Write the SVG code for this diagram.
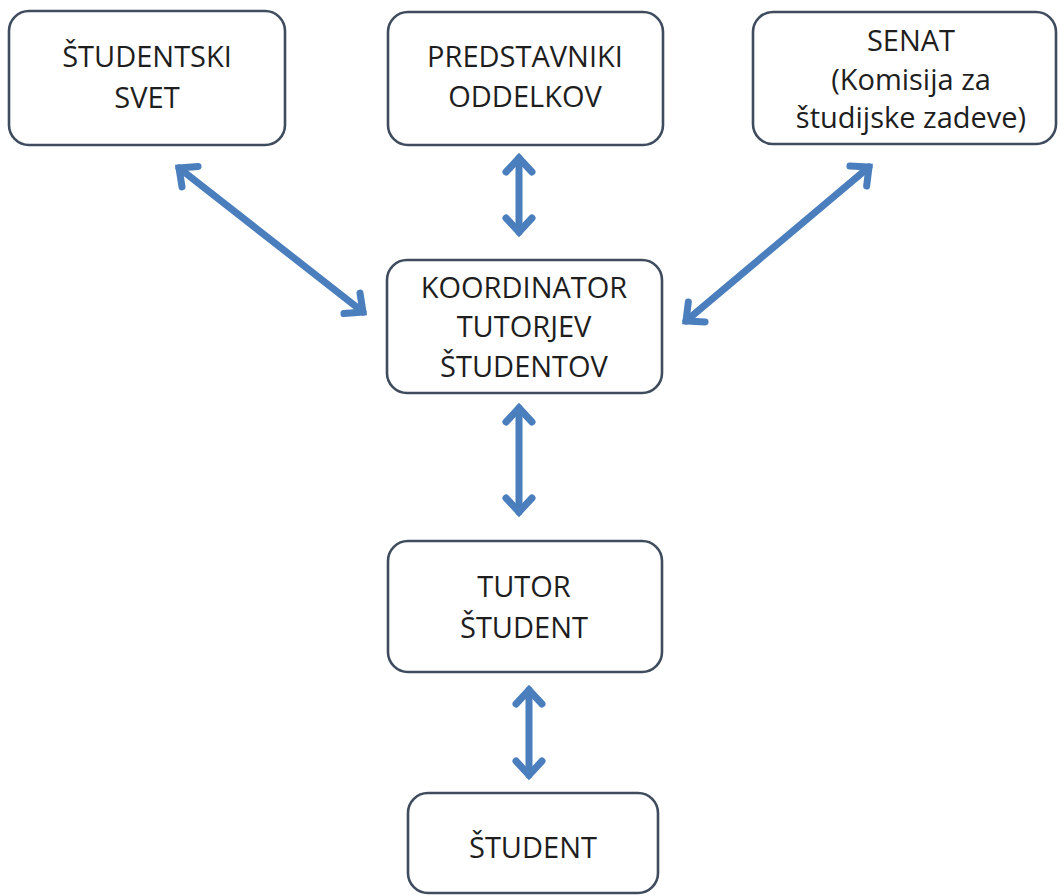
<svg xmlns="http://www.w3.org/2000/svg" width="1060" height="896" viewBox="0 0 1060 896">
<style>
.box{fill:#ffffff;stroke:#3e4c5d;stroke-width:2.6}
.t{font-family:"Open Sans","Liberation Sans",sans-serif;font-size:29px;fill:#1e1e1e;text-anchor:middle}
.c{fill:none;stroke:#4a7ebd;stroke-width:7;stroke-linecap:round}
</style>
<defs>
<marker id="ah" markerUnits="userSpaceOnUse" viewBox="-20 -20 30 40" refX="0" refY="0" markerWidth="30" markerHeight="40" orient="auto-start-reverse" overflow="visible">
<path d="M -14 -13 L 0 0 L -14 13" fill="none" stroke="#4a7ebd" stroke-width="7" stroke-linecap="round" stroke-linejoin="miter"/>
</marker>
</defs>
<rect width="1060" height="896" fill="#ffffff"/>
<g id="n-studentski-svet">
<rect class="box" x="9" y="11" width="276" height="134" rx="20"/>
<text class="t" x="147" y="67">ŠTUDENTSKI</text>
<text class="t" x="147" y="108">SVET</text>
</g>
<g id="n-predstavniki">
<rect class="box" x="388" y="12" width="275" height="133" rx="20"/>
<text class="t" x="525" y="67">PREDSTAVNIKI</text>
<text class="t" x="525" y="107">ODDELKOV</text>
</g>
<g id="n-senat">
<rect class="box" x="753" y="12" width="303" height="132" rx="20"/>
<text class="t" x="911" y="51">SENAT</text>
<text class="t" x="911" y="90">(Komisija za</text>
<text class="t" x="911" y="128">študijske zadeve)</text>
</g>
<g id="n-koordinator">
<rect class="box" x="387" y="260" width="275" height="133" rx="20"/>
<text class="t" x="524" y="298">KOORDINATOR</text>
<text class="t" x="524" y="337">TUTORJEV</text>
<text class="t" x="524" y="377">ŠTUDENTOV</text>
</g>
<g id="n-tutor">
<rect class="box" x="388" y="541" width="274" height="131" rx="20"/>
<text class="t" x="524" y="597">TUTOR</text>
<text class="t" x="524" y="638">ŠTUDENT</text>
</g>
<g id="n-student">
<rect class="box" x="408" y="793" width="250" height="100" rx="20"/>
<text class="t" x="533" y="858">ŠTUDENT</text>
</g>
<g id="connectors">
<line class="c" x1="519" y1="158" x2="519" y2="232" marker-start="url(#ah)" marker-end="url(#ah)"/>
<line class="c" x1="179" y1="168" x2="363" y2="312" marker-start="url(#ah)" marker-end="url(#ah)"/>
<line class="c" x1="869" y1="167" x2="686" y2="321" marker-start="url(#ah)" marker-end="url(#ah)"/>
<line class="c" x1="519" y1="408" x2="519" y2="512" marker-start="url(#ah)" marker-end="url(#ah)"/>
<line class="c" x1="529" y1="690" x2="529" y2="775" marker-start="url(#ah)" marker-end="url(#ah)"/>
</g>
</svg>
